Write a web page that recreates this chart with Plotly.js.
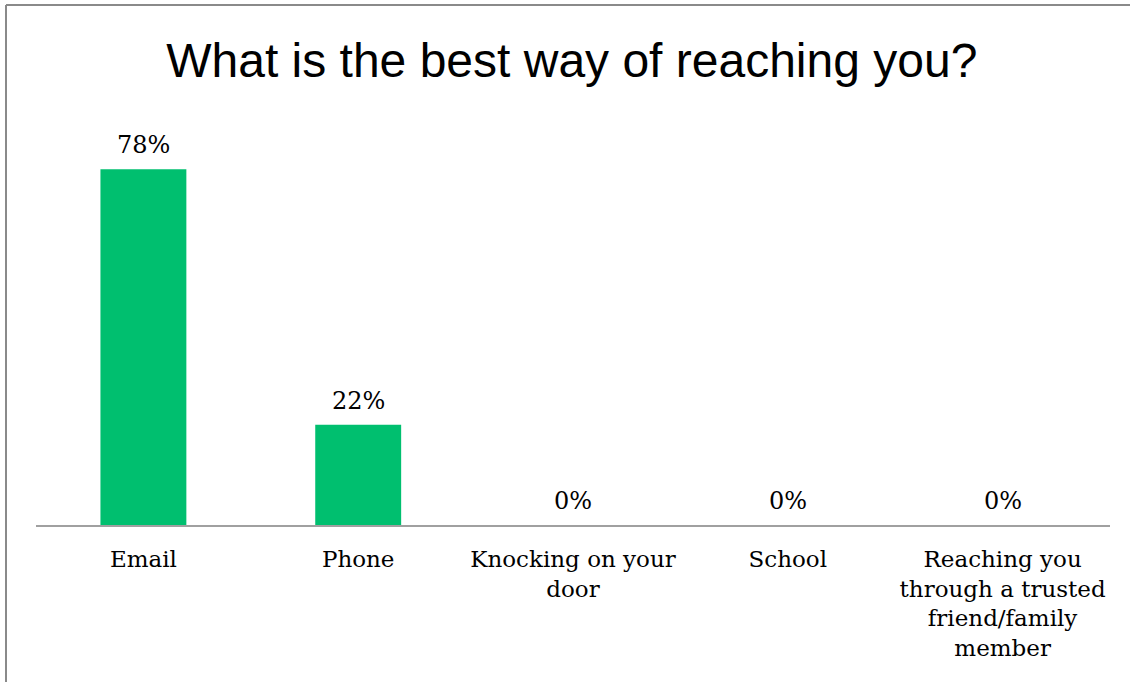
<!DOCTYPE html>
<html>
<head>
<meta charset="utf-8">
<script src="https://cdn.plot.ly/plotly-3.0.1.min.js"></script>
<style>html,body{margin:0;padding:0;background:#fff}#chart{width:1130px;height:682px}</style>
</head>
<body>
<div id="chart"></div>
<script>
const categories = ["Email", "Phone", "Knocking on your<br>door", "School", "Reaching you<br>through a trusted<br>friend/family<br>member"];
const values = [78, 22, 0, 0, 0];
const labels = ["78%", "22%", "0%", "0%", "0%"];

const W = 1130, H = 682;
const L = 36, R = 20, T = 160, B = 157;
const pw = W - L - R, ph = H - T - B;
const px = x => (x - L) / pw;
const py = y => (H - B - y) / ph;

const trace = {
  type: 'bar',
  x: categories,
  y: values,
  marker: {color: '#00bf6f'},
  hoverinfo: 'none'
};

const valueLabels = categories.map((c, i) => ({
  x: c, y: values[i], xref: 'x', yref: 'y',
  text: labels[i], showarrow: false,
  yanchor: 'bottom', yshift: 8,
  font: {family: 'DejaVu Serif, serif', size: 24, color: '#000'}
}));

const layout = {
  width: W, height: H,
  margin: {l: L, r: R, t: T, b: B, pad: 0},
  paper_bgcolor: '#fff', plot_bgcolor: '#fff',
  showlegend: false,
  bargap: 0.6,
  title: {text: 'What is the best way of reaching you?', x: 0.506, xanchor: 'center', y: 0.912, yanchor: 'middle',
          font: {family: 'Liberation Sans, Arial, sans-serif', size: 48, color: '#000'}},
  xaxis: {
    showline: true, linecolor: '#a0a0a0', linewidth: 2,
    ticks: 'outside', ticklen: 12, tickcolor: 'rgba(0,0,0,0)',
    tickfont: {family: 'DejaVu Serif, serif', size: 23, color: '#000'},
    showgrid: false, zeroline: false, fixedrange: true
  },
  yaxis: {range: [0, 80], visible: false, showgrid: false, zeroline: false, fixedrange: true},
  annotations: valueLabels,
  shapes: [
    {type: 'line', xref: 'paper', yref: 'paper', x0: px(6), x1: px(6), y0: py(5), y1: py(H + 5), line: {color: '#8a8a8a', width: 2}},
    {type: 'line', xref: 'paper', yref: 'paper', x0: px(6), x1: px(W + 5), y0: py(5), y1: py(5), line: {color: '#8a8a8a', width: 2}}
  ]
};

Plotly.newPlot('chart', [trace], layout, {displayModeBar: false, staticPlot: true});
</script>
</body>
</html>
